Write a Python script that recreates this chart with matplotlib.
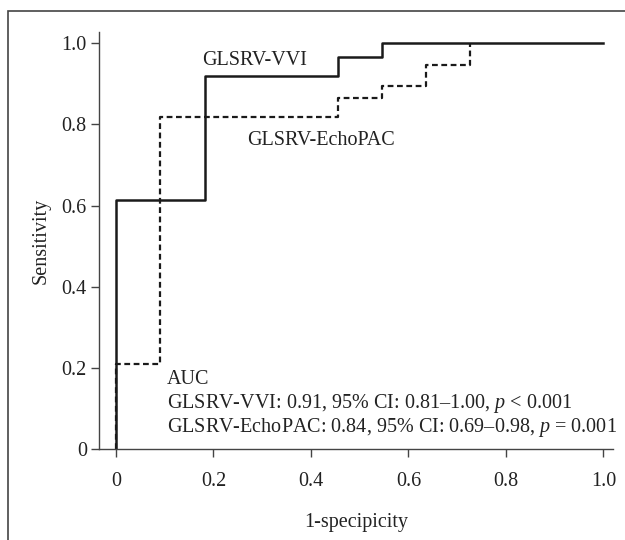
import matplotlib
matplotlib.use("Agg")
import matplotlib.pyplot as plt
from matplotlib.patches import Rectangle

# ROC points (1-specificity, sensitivity)
fpr_vvi = [0, 0, 0.182, 0.455, 0.545, 1.0]
tpr_vvi = [0, 0.615, 0.92, 0.965, 1.0, 1.0]

fpr_echo = [0, 0, 0.091, 0.455, 0.545, 0.636, 0.727]
tpr_echo = [0, 0.21, 0.817, 0.866, 0.895, 0.946, 1.0]

ticks = [0, 0.2, 0.4, 0.6, 0.8, 1.0]
tick_labels = ["0", "0.2", "0.4", "0.6", "0.8", "1.0"]

auc_lines = [
    "AUC",
    "GLSRV-VVI: 0.91, 95% CI: 0.81\u20131.00, $\\it{p}$ < 0.001",
    "GLSRV-EchoPAC: 0.84, 95% CI: 0.69\u20130.98, $\\it{p}$ = 0.001",
]

plt.rcParams['font.family'] = ['Liberation Serif', 'DejaVu Serif']
plt.rcParams['mathtext.fontset'] = 'custom'
plt.rcParams['mathtext.it'] = 'Liberation Serif:italic'
plt.rcParams['mathtext.rm'] = 'Liberation Serif'

fs = 14.5

fig = plt.figure(figsize=(6.25, 5.4), dpi=100)
ax = fig.add_axes([0.159, 0.1676, 0.822, 0.773])

# outer frame (only left and top edges show in the picture)
fig.patches.append(Rectangle((8 / 625, -0.1), 1.2, 1 - 11 / 540 + 0.1,
                             transform=fig.transFigure, fill=False,
                             edgecolor='#444444', linewidth=1.2))

ax.plot(fpr_echo, tpr_echo, drawstyle='steps-post', color='#1a1a1a',
        linewidth=1.6, dashes=(2.6, 1.6))
ax.plot(fpr_vvi, tpr_vvi, drawstyle='steps-post', color='#1a1a1a',
        linewidth=1.8)

ax.text(0.177, 0.958, "GLSRV-VVI", fontsize=fs, va='center', color='#222222')
ax.text(0.269, 0.761, "GLSRV-EchoPAC", fontsize=fs, va='center', color='#222222')
for txt, yy in zip(auc_lines, [0.171, 0.112, 0.055]):
    ax.text(0.105, yy, txt, fontsize=fs, va='center', color='#222222')

ax.set_xlim(-0.034, 1.02)
ax.set_ylim(0, 1.027)
ax.set_xticks(ticks)
ax.set_xticklabels(tick_labels)
ax.set_yticks(ticks)
ax.set_yticklabels(tick_labels)
ax.tick_params(labelsize=fs, length=6, width=1, color='#444444',
               labelcolor='#222222')
ax.tick_params(axis='x', pad=10)
ax.tick_params(axis='y', pad=3)
for s in ['top', 'right']:
    ax.spines[s].set_visible(False)
for s in ['left', 'bottom']:
    ax.spines[s].set_color('#444444')
    ax.spines[s].set_linewidth(1)

ax.set_xlabel("1-specipicity", fontsize=fs, color='#222222', labelpad=16)
ax.set_ylabel("Sensitivity", fontsize=fs, color='#222222', labelpad=8)

fig.savefig("out.png", dpi=100)
